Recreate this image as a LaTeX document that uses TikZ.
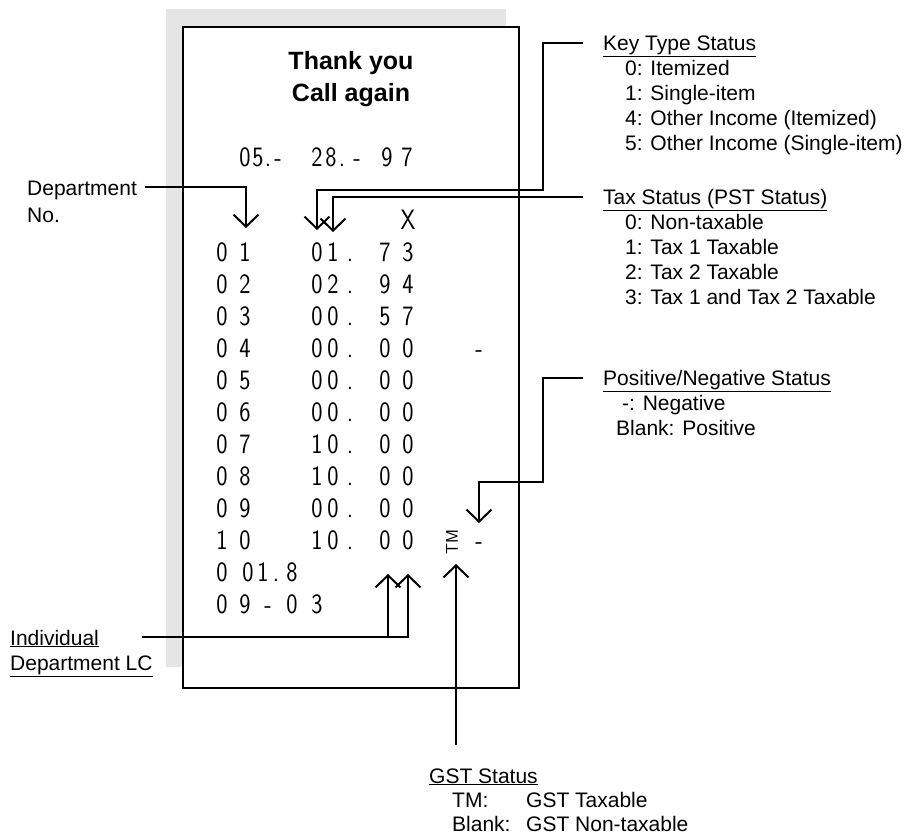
\documentclass[tikz,border=0pt]{standalone}
\usepackage{fontspec}
\setmainfont{Liberation Sans}
\usetikzlibrary{arrows.meta}
\definecolor{papergray}{RGB}{229,229,229}
\begin{document}
\begin{tikzpicture}[x=1pt,y=-1pt,
  lbl/.style={font=\fontsize{21}{25}\selectfont, inner sep=0pt, anchor=base west},
  rc/.style={font=\sffamily\fontsize{28}{28}\selectfont, inner sep=0pt, anchor=base, xscale=0.85},
  conn/.style={line width=2pt, -{Straight Barb[length=12pt,width=25pt,line width=2pt]}},
  wire/.style={line width=2pt}]
\useasboundingbox (0,0) rectangle (906,838);
% paper shadow and receipt
\fill[papergray] (166,9) rectangle (506,667);
\draw[line width=2pt,fill=white] (183,27) rectangle (519,688);

% receipt header
\node[font=\bfseries\fontsize{25}{30}\selectfont, inner sep=0pt, anchor=base] (thank) at (351,69) {Thank you};
\node[font=\bfseries\fontsize{25}{30}\selectfont, inner sep=0pt, anchor=base] (call) at (351,101) {Call again};

% date
\foreach \x/\c [count=\i] in {245/0,258/5,268/.,278/-,317/2,331/8,342/.,357/-,387/9,407/7}
  \node[rc] (date\i) at (\x,166) {\c};

\node[rc] (xmark) at (408,229) {X};

% rows
\foreach \yb/\p/\q/\r/\s/\t/\u [count=\i] in {261/0/1/0/1/7/3, 293/0/2/0/2/9/4, 325/0/3/0/0/5/7, 357/0/4/0/0/0/0, 389/0/5/0/0/0/0, 421/0/6/0/0/0/0, 453/0/7/1/0/0/0, 485/0/8/1/0/0/0, 517/0/9/0/0/0/0, 549/1/0/1/0/0/0} {
  \node[rc] (r\i-a) at (222,\yb) {\p};
  \node[rc] (r\i-b) at (245,\yb) {\q};
  \node[rc] (r\i-c) at (317,\yb) {\r};
  \node[rc] (r\i-d) at (333,\yb) {\s};
  \node[rc] (r\i-e) at (350,\yb) {.};
  \node[rc] (r\i-f) at (385,\yb) {\t};
  \node[rc] (r\i-g) at (408,\yb) {\u};
}
\node[rc] (neg4) at (479,357) {-};
\node[rc] (neg10) at (479,549) {-};
\node[font=\sffamily\fontsize{17}{17}\selectfont, inner sep=0pt, rotate=90] (tm) at (452,542) {TM};

\foreach \x/\c [count=\i] in {222/0,248/0,263/1,276/.,292/8}
  \node[rc] (lc\i) at (\x,581) {\c};
\foreach \x/\c [count=\i] in {222/0,245/9,268/-,292/0,317/3}
  \node[rc] (dt\i) at (\x,613) {\c};

% left labels
\node[lbl] (deptA) at (27,195) {Department};
\node[lbl] (deptB) at (27,222) {No.};
\node[lbl] (ilcA) at (10,645) {\underline{Individual}};
\node[lbl] (ilcB) at (10,670) {\underline{Department LC}};

% right labels
\node[lbl] (kt) at (603,50) {\underline{Key Type Status}};
\node[lbl] (kt1) at (625,75) {0: Itemized};
\node[lbl] (kt2) at (625,100) {1: Single-item};
\node[lbl] (kt3) at (625,125) {4: Other Income (Itemized)};
\node[lbl] (kt4) at (625,150) {5: Other Income (Single-item)};

\node[lbl] (tx) at (603,204) {\underline{Tax Status (PST Status)}};
\node[lbl] (tx1) at (625,229) {0: Non-taxable};
\node[lbl] (tx2) at (625,254) {1: Tax 1 Taxable};
\node[lbl] (tx3) at (625,279) {2: Tax 2 Taxable};
\node[lbl] (tx4) at (625,304) {3: Tax 1 and Tax 2 Taxable};

\node[lbl] (pn) at (603,385) {\underline{Positive/Negative Status}};
\node[lbl] (pn1) at (622,410) {-: Negative};
\node[lbl] (pn2) at (616,435) {Blank: Positive};

\node[lbl] (gst) at (429,783) {\underline{GST Status}};
\node[lbl] (gst1) at (452,807) {TM:};
\node[lbl] (gst1v) at (526,807) {GST Taxable};
\node[lbl] (gst2) at (452,831) {Blank:};
\node[lbl] (gst2v) at (526,831) {GST Non-taxable};

% connector points
\coordinate (deptStart) at (145,187);
\coordinate (deptTip) at (246,228);
\coordinate (kt0) at (583,43);
\coordinate (ktBend) at (543,190);
\coordinate (ktTip) at (317,230);
\coordinate (tx0) at (583,197);
\coordinate (txTip) at (333,232);
\coordinate (pn0) at (583,378);
\coordinate (pnBend) at (543,482);
\coordinate (pnTip) at (479,523);
\coordinate (gstEnd) at (456,745);
\coordinate (gstTip) at (456,564);
\coordinate (ilcStart) at (142,637);
\coordinate (ilcMid) at (388,637);
\coordinate (ilcTipA) at (388,574);
\coordinate (ilcTipB) at (408,574);

\draw[conn] (deptStart) -| (deptTip);
\draw[conn] (kt0) -| (ktBend) -| (ktTip);
\draw[conn] (tx0) -| (txTip);
\draw[conn] (pn0) -| (pnBend) -| (pnTip);
\draw[conn] (gstEnd) -- (gstTip);
\draw[conn] (ilcStart) -| (ilcTipB);
\draw[conn] (ilcMid) -- (ilcTipA);
\end{tikzpicture}
\end{document}
